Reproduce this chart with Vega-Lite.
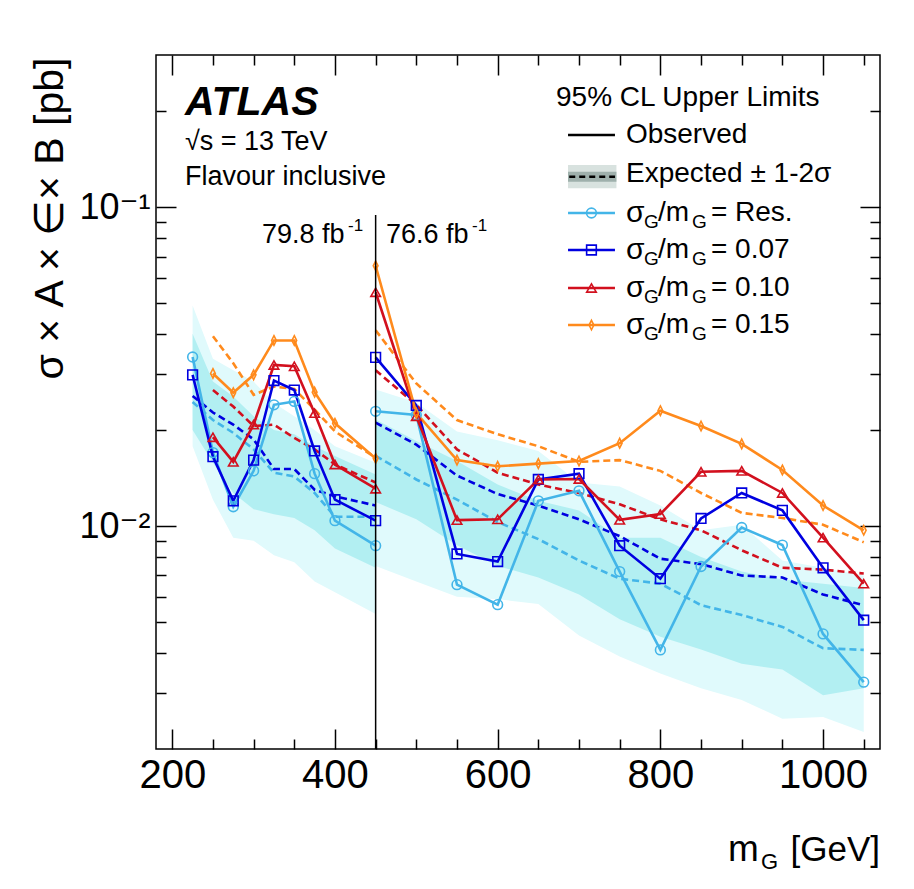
{
  "$schema": "https://vega.github.io/schema/vega-lite/v6.json",
  "width": 724,
  "height": 694,
  "autosize": {"type": "none"},
  "padding": {"left": 156, "top": 55, "right": 34, "bottom": 140},
  "background": "white",
  "data": {"values": [{}]},
  "config": {
    "view": {"stroke": "black", "strokeWidth": 1.5},
    "font": "Liberation Sans, DejaVu Sans, sans-serif",
    "axis": {"domain": false, "grid": false, "tickColor": "black", "tickWidth": 1.5, "labelColor": "black", "labelFont": "Liberation Sans, DejaVu Sans, sans-serif", "titleColor": "black", "titleFont": "Liberation Sans, DejaVu Sans, sans-serif", "labelOverlap": false, "labelFlush": false}
  },
  "datasets": {
    "lines": [
      {"series": "Res.", "region": "L", "m": 225, "obs": 0.0339, "exp": 0.0245},
      {"series": "Res.", "region": "L", "m": 250, "obs": 0.0170, "exp": 0.0215},
      {"series": "Res.", "region": "L", "m": 275, "obs": 0.0115, "exp": 0.0196},
      {"series": "Res.", "region": "L", "m": 300, "obs": 0.0149, "exp": 0.0174},
      {"series": "Res.", "region": "L", "m": 325, "obs": 0.0240, "exp": 0.0147},
      {"series": "Res.", "region": "L", "m": 350, "obs": 0.0246, "exp": 0.0143},
      {"series": "Res.", "region": "L", "m": 375, "obs": 0.0146, "exp": 0.0127},
      {"series": "Res.", "region": "L", "m": 400, "obs": 0.0104, "exp": 0.0107},
      {"series": "Res.", "region": "L", "m": 450, "obs": 0.00868, "exp": 0.0107},
      {"series": "Res.", "region": "R", "m": 450, "obs": 0.0229, "exp": 0.0166},
      {"series": "Res.", "region": "R", "m": 500, "obs": 0.0223, "exp": 0.0140},
      {"series": "Res.", "region": "R", "m": 550, "obs": 0.00655, "exp": 0.0121},
      {"series": "Res.", "region": "R", "m": 600, "obs": 0.00567, "exp": 0.0103},
      {"series": "Res.", "region": "R", "m": 650, "obs": 0.0120, "exp": 0.0091},
      {"series": "Res.", "region": "R", "m": 700, "obs": 0.0129, "exp": 0.0078},
      {"series": "Res.", "region": "R", "m": 750, "obs": 0.0072, "exp": 0.00684},
      {"series": "Res.", "region": "R", "m": 800, "obs": 0.00409, "exp": 0.0066},
      {"series": "Res.", "region": "R", "m": 850, "obs": 0.00747, "exp": 0.00565},
      {"series": "Res.", "region": "R", "m": 900, "obs": 0.0099, "exp": 0.00526},
      {"series": "Res.", "region": "R", "m": 950, "obs": 0.00872, "exp": 0.00483},
      {"series": "Res.", "region": "R", "m": 1000, "obs": 0.00459, "exp": 0.00414},
      {"series": "Res.", "region": "R", "m": 1050, "obs": 0.00324, "exp": 0.00409},
      {"series": "0.07", "region": "L", "m": 225, "obs": 0.0298, "exp": 0.0256},
      {"series": "0.07", "region": "L", "m": 250, "obs": 0.0165, "exp": 0.0227},
      {"series": "0.07", "region": "L", "m": 275, "obs": 0.0120, "exp": 0.0208},
      {"series": "0.07", "region": "L", "m": 300, "obs": 0.0161, "exp": 0.0187},
      {"series": "0.07", "region": "L", "m": 325, "obs": 0.0286, "exp": 0.0151},
      {"series": "0.07", "region": "L", "m": 350, "obs": 0.0267, "exp": 0.0151},
      {"series": "0.07", "region": "L", "m": 375, "obs": 0.0172, "exp": 0.0130},
      {"series": "0.07", "region": "L", "m": 400, "obs": 0.0121, "exp": 0.0124},
      {"series": "0.07", "region": "L", "m": 450, "obs": 0.0104, "exp": 0.0116},
      {"series": "0.07", "region": "R", "m": 450, "obs": 0.0338, "exp": 0.0211},
      {"series": "0.07", "region": "R", "m": 500, "obs": 0.0239, "exp": 0.0180},
      {"series": "0.07", "region": "R", "m": 550, "obs": 0.00818, "exp": 0.0144},
      {"series": "0.07", "region": "R", "m": 600, "obs": 0.00774, "exp": 0.0126},
      {"series": "0.07", "region": "R", "m": 650, "obs": 0.0140, "exp": 0.0116},
      {"series": "0.07", "region": "R", "m": 700, "obs": 0.0146, "exp": 0.0105},
      {"series": "0.07", "region": "R", "m": 750, "obs": 0.00868, "exp": 0.0093},
      {"series": "0.07", "region": "R", "m": 800, "obs": 0.00684, "exp": 0.0079},
      {"series": "0.07", "region": "R", "m": 850, "obs": 0.01057, "exp": 0.0076},
      {"series": "0.07", "region": "R", "m": 900, "obs": 0.0127, "exp": 0.0070},
      {"series": "0.07", "region": "R", "m": 950, "obs": 0.0112, "exp": 0.0069},
      {"series": "0.07", "region": "R", "m": 1000, "obs": 0.0074, "exp": 0.0061},
      {"series": "0.07", "region": "R", "m": 1050, "obs": 0.00507, "exp": 0.00565},
      {"series": "0.10", "region": "L", "m": 250, "obs": 0.0190, "exp": 0.0267},
      {"series": "0.10", "region": "L", "m": 275, "obs": 0.0159, "exp": 0.0237},
      {"series": "0.10", "region": "L", "m": 300, "obs": 0.0208, "exp": 0.0206},
      {"series": "0.10", "region": "L", "m": 325, "obs": 0.0320, "exp": 0.0208},
      {"series": "0.10", "region": "L", "m": 350, "obs": 0.0317, "exp": 0.0189},
      {"series": "0.10", "region": "L", "m": 375, "obs": 0.0226, "exp": 0.0174},
      {"series": "0.10", "region": "L", "m": 400, "obs": 0.0156, "exp": 0.0156},
      {"series": "0.10", "region": "L", "m": 450, "obs": 0.0131, "exp": 0.0137},
      {"series": "0.10", "region": "R", "m": 450, "obs": 0.0541, "exp": 0.0308},
      {"series": "0.10", "region": "R", "m": 500, "obs": 0.0221, "exp": 0.0240},
      {"series": "0.10", "region": "R", "m": 550, "obs": 0.01044, "exp": 0.0174},
      {"series": "0.10", "region": "R", "m": 600, "obs": 0.0105, "exp": 0.0147},
      {"series": "0.10", "region": "R", "m": 650, "obs": 0.0140, "exp": 0.0135},
      {"series": "0.10", "region": "R", "m": 700, "obs": 0.01405, "exp": 0.0127},
      {"series": "0.10", "region": "R", "m": 750, "obs": 0.01046, "exp": 0.0117},
      {"series": "0.10", "region": "R", "m": 800, "obs": 0.0109, "exp": 0.0105},
      {"series": "0.10", "region": "R", "m": 850, "obs": 0.0148, "exp": 0.0097},
      {"series": "0.10", "region": "R", "m": 900, "obs": 0.0149, "exp": 0.0084},
      {"series": "0.10", "region": "R", "m": 950, "obs": 0.0127, "exp": 0.0074},
      {"series": "0.10", "region": "R", "m": 1000, "obs": 0.0092, "exp": 0.0073},
      {"series": "0.10", "region": "R", "m": 1050, "obs": 0.0066, "exp": 0.0071},
      {"series": "0.15", "region": "L", "m": 250, "obs": 0.0301, "exp": 0.0394},
      {"series": "0.15", "region": "L", "m": 275, "obs": 0.0262, "exp": 0.0324},
      {"series": "0.15", "region": "L", "m": 300, "obs": 0.0298, "exp": 0.0258},
      {"series": "0.15", "region": "L", "m": 325, "obs": 0.0382, "exp": 0.0274},
      {"series": "0.15", "region": "L", "m": 350, "obs": 0.0382, "exp": 0.0269},
      {"series": "0.15", "region": "L", "m": 375, "obs": 0.0263, "exp": 0.0232},
      {"series": "0.15", "region": "L", "m": 400, "obs": 0.0210, "exp": 0.0198},
      {"series": "0.15", "region": "L", "m": 450, "obs": 0.0163, "exp": 0.0164},
      {"series": "0.15", "region": "R", "m": 450, "obs": 0.0655, "exp": 0.0411},
      {"series": "0.15", "region": "R", "m": 500, "obs": 0.0226, "exp": 0.0280},
      {"series": "0.15", "region": "R", "m": 550, "obs": 0.0161, "exp": 0.0215},
      {"series": "0.15", "region": "R", "m": 600, "obs": 0.0154, "exp": 0.0194},
      {"series": "0.15", "region": "R", "m": 650, "obs": 0.0157, "exp": 0.0178},
      {"series": "0.15", "region": "R", "m": 700, "obs": 0.0160, "exp": 0.0159},
      {"series": "0.15", "region": "R", "m": 750, "obs": 0.0182, "exp": 0.0161},
      {"series": "0.15", "region": "R", "m": 800, "obs": 0.0230, "exp": 0.0149},
      {"series": "0.15", "region": "R", "m": 850, "obs": 0.0206, "exp": 0.0127},
      {"series": "0.15", "region": "R", "m": 900, "obs": 0.0181, "exp": 0.0110},
      {"series": "0.15", "region": "R", "m": 950, "obs": 0.0150, "exp": 0.0106},
      {"series": "0.15", "region": "R", "m": 1000, "obs": 0.0116, "exp": 0.0101},
      {"series": "0.15", "region": "R", "m": 1050, "obs": 0.0097, "exp": 0.0089}
    ],
    "bands": [
      {"region": "L", "m": 225, "lo2": 0.0178, "lo1": 0.0200, "hi1": 0.0401, "hi2": 0.0492},
      {"region": "L", "m": 250, "lo2": 0.0121, "lo1": 0.0158, "hi1": 0.0284, "hi2": 0.0335},
      {"region": "L", "m": 275, "lo2": 0.0092, "lo1": 0.0127, "hi1": 0.0255, "hi2": 0.0308},
      {"region": "L", "m": 300, "lo2": 0.0090, "lo1": 0.0113, "hi1": 0.0221, "hi2": 0.0284},
      {"region": "L", "m": 325, "lo2": 0.0081, "lo1": 0.0109, "hi1": 0.0200, "hi2": 0.0243},
      {"region": "L", "m": 350, "lo2": 0.0077, "lo1": 0.0106, "hi1": 0.0194, "hi2": 0.0221},
      {"region": "L", "m": 375, "lo2": 0.0067, "lo1": 0.0097, "hi1": 0.0178, "hi2": 0.0200},
      {"region": "L", "m": 400, "lo2": 0.0062, "lo1": 0.0085, "hi1": 0.0166, "hi2": 0.0178},
      {"region": "L", "m": 450, "lo2": 0.0053, "lo1": 0.0074, "hi1": 0.0145, "hi2": 0.0158},
      {"region": "R", "m": 450, "lo2": 0.0075, "lo1": 0.0119, "hi1": 0.0216, "hi2": 0.0268},
      {"region": "R", "m": 500, "lo2": 0.0067, "lo1": 0.0105, "hi1": 0.0185, "hi2": 0.0244},
      {"region": "R", "m": 550, "lo2": 0.0060, "lo1": 0.0087, "hi1": 0.0160, "hi2": 0.0198},
      {"region": "R", "m": 600, "lo2": 0.0059, "lo1": 0.0075, "hi1": 0.0135, "hi2": 0.0186},
      {"region": "R", "m": 650, "lo2": 0.0057, "lo1": 0.0069, "hi1": 0.0120, "hi2": 0.0172},
      {"region": "R", "m": 700, "lo2": 0.00454, "lo1": 0.0061, "hi1": 0.0112, "hi2": 0.0137},
      {"region": "R", "m": 750, "lo2": 0.0039, "lo1": 0.0051, "hi1": 0.0092, "hi2": 0.0133},
      {"region": "R", "m": 800, "lo2": 0.00345, "lo1": 0.0045, "hi1": 0.0092, "hi2": 0.0116},
      {"region": "R", "m": 850, "lo2": 0.0031, "lo1": 0.0041, "hi1": 0.0080, "hi2": 0.0097},
      {"region": "R", "m": 900, "lo2": 0.00285, "lo1": 0.0037, "hi1": 0.0072, "hi2": 0.0101},
      {"region": "R", "m": 950, "lo2": 0.00249, "lo1": 0.00355, "hi1": 0.0068, "hi2": 0.0078},
      {"region": "R", "m": 1000, "lo2": 0.00252, "lo1": 0.00295, "hi1": 0.0066, "hi2": 0.0074},
      {"region": "R", "m": 1050, "lo2": 0.00226, "lo1": 0.0031, "hi1": 0.0064, "hi2": 0.0070}
    ],
    "legend": [
      {"series": "Res.", "ly": 0.0959, "val": "= Res."},
      {"series": "0.07", "ly": 0.0734, "val": "= 0.07"},
      {"series": "0.10", "ly": 0.0558, "val": "= 0.10"},
      {"series": "0.15", "ly": 0.0427, "val": "= 0.15"}
    ]
  },
  "resolve": {"axis": {"x": "independent", "y": "independent"}},
  "layer": [
    {
      "data": {"name": "bands"},
      "mark": {"type": "area", "color": "#e0fafc", "opacity": 1},
      "encoding": {
        "x": {"field": "m", "type": "quantitative", "scale": {"domain": [180, 1070], "nice": false, "zero": false},
          "axis": {"orient": "bottom", "title": null, "values": [200,250,300,350,400,450,500,550,600,650,700,750,800,850,900,950,1000,1050],
            "labelExpr": "datum.value % 200 === 0 ? format(datum.value, 'd') : ''",
            "tickSize": {"condition": {"test": "datum.value % 200 === 0", "value": -20}, "value": -10},
            "labelFontSize": 40, "labelPadding": 26}},
        "y": {"field": "lo2", "type": "quantitative", "scale": {"type": "log", "domain": [0.002, 0.3], "nice": false},
          "axis": {"orient": "left", "values": [0.003,0.004,0.005,0.006,0.007,0.008,0.009,0.01,0.02,0.03,0.04,0.05,0.06,0.07,0.08,0.09,0.1,0.2],
            "labelExpr": "datum.value === 0.1 ? '10⁻¹' : (datum.value === 0.01 ? '10⁻²' : '')",
            "tickSize": {"condition": {"test": "datum.value === 0.1 || datum.value === 0.01", "value": -20}, "value": -10},
            "labelFontSize": 36, "labelPadding": 26,
            "title": "σ × A × ∈× B [pb]", "titleFontSize": 41, "titleFontWeight": "normal", "titleAngle": -90,
            "titleX": -94, "titleY": 2, "titleAlign": "right", "titleBaseline": "alphabetic"}},
        "y2": {"field": "hi2"},
        "detail": {"field": "region"}
      }
    },
    {
      "data": {"name": "bands"},
      "mark": {"type": "area", "color": "#b2eff2", "opacity": 1},
      "encoding": {
        "x": {"field": "m", "type": "quantitative",
          "axis": {"orient": "top", "title": null, "labels": false, "values": [200,250,300,350,400,450,500,550,600,650,700,750,800,850,900,950,1000,1050],
            "tickSize": {"condition": {"test": "datum.value % 200 === 0", "value": -20}, "value": -10}}},
        "y": {"field": "lo1", "type": "quantitative",
          "axis": {"orient": "right", "title": null, "labels": false, "values": [0.003,0.004,0.005,0.006,0.007,0.008,0.009,0.01,0.02,0.03,0.04,0.05,0.06,0.07,0.08,0.09,0.1,0.2],
            "tickSize": {"condition": {"test": "datum.value === 0.1 || datum.value === 0.01", "value": -20}, "value": -10}}},
        "y2": {"field": "hi1"},
        "detail": {"field": "region"}
      }
    },
    {
      "data": {"name": "lines"},
      "mark": {"type": "line", "strokeWidth": 2.6, "strokeDash": [7, 4]},
      "encoding": {
        "x": {"field": "m", "type": "quantitative", "axis": null},
        "y": {"field": "exp", "type": "quantitative", "axis": null},
        "color": {"field": "series", "type": "nominal", "legend": null,
          "scale": {"domain": ["Res.", "0.07", "0.10", "0.15"], "range": ["#43b5e8", "#0000e0", "#d2101e", "#ff8a1c"]}},
        "detail": {"field": "region"}
      }
    },
    {
      "data": {"name": "lines"},
      "mark": {"type": "line", "strokeWidth": 2.6},
      "encoding": {
        "x": {"field": "m", "type": "quantitative", "axis": null},
        "y": {"field": "obs", "type": "quantitative", "axis": null},
        "color": {"field": "series", "type": "nominal", "legend": null},
        "detail": {"field": "region"}
      }
    },
    {
      "data": {"name": "lines"},
      "mark": {"type": "point", "filled": false, "strokeWidth": 1.6, "opacity": 1},
      "encoding": {
        "x": {"field": "m", "type": "quantitative", "axis": null},
        "y": {"field": "obs", "type": "quantitative", "axis": null},
        "color": {"field": "series", "type": "nominal", "legend": null},
        "shape": {"field": "series", "type": "nominal", "legend": null,
          "scale": {"domain": ["Res.", "0.07", "0.10", "0.15"], "range": ["circle", "square", "triangle-up", "M0,-1L0.5,0L0,1L-0.5,0Z"]}},
        "size": {"field": "series", "type": "nominal", "legend": null,
          "scale": {"domain": ["Res.", "0.07", "0.10", "0.15"], "range": [95, 90, 105, 75]}}
      }
    },
    {
      "mark": {"type": "rule", "color": "black", "strokeWidth": 1.5},
      "encoding": {
        "x": {"datum": 450, "type": "quantitative", "axis": null},
        "y": {"datum": 0.002, "type": "quantitative", "axis": null},
        "y2": {"datum": 0.0945}
      }
    },
    {
      "mark": {"type": "text", "text": "ATLAS", "fontSize": 41, "fontWeight": "bold", "fontStyle": "italic", "align": "left", "baseline": "alphabetic", "color": "black"},
      "encoding": {"x": {"datum": 215.6, "type": "quantitative", "axis": null}, "y": {"datum": 0.1945, "type": "quantitative", "axis": null}}
    },
    {
      "mark": {"type": "text", "text": "√s = 13 TeV", "fontSize": 27, "align": "left", "baseline": "alphabetic", "color": "black"},
      "encoding": {"x": {"datum": 215.6, "type": "quantitative", "axis": null}, "y": {"datum": 0.1511, "type": "quantitative", "axis": null}}
    },
    {
      "mark": {"type": "text", "text": "Flavour inclusive", "fontSize": 27, "align": "left", "baseline": "alphabetic", "color": "black"},
      "encoding": {"x": {"datum": 215.6, "type": "quantitative", "axis": null}, "y": {"datum": 0.1174, "type": "quantitative", "axis": null}}
    },
    {
      "mark": {"type": "text", "text": "79.8 fb", "fontSize": 27, "align": "left", "baseline": "alphabetic", "color": "black"},
      "encoding": {"x": {"datum": 310.3, "type": "quantitative", "axis": null}, "y": {"datum": 0.0772, "type": "quantitative", "axis": null}}
    },
    {
      "mark": {"type": "text", "text": "-1", "fontSize": 17, "align": "left", "baseline": "alphabetic", "dx": 86, "dy": -12, "color": "black"},
      "encoding": {"x": {"datum": 310.3, "type": "quantitative", "axis": null}, "y": {"datum": 0.0772, "type": "quantitative", "axis": null}}
    },
    {
      "mark": {"type": "text", "text": "76.6 fb", "fontSize": 27, "align": "left", "baseline": "alphabetic", "color": "black"},
      "encoding": {"x": {"datum": 462.7, "type": "quantitative", "axis": null}, "y": {"datum": 0.0772, "type": "quantitative", "axis": null}}
    },
    {
      "mark": {"type": "text", "text": "-1", "fontSize": 17, "align": "left", "baseline": "alphabetic", "dx": 86, "dy": -12, "color": "black"},
      "encoding": {"x": {"datum": 462.7, "type": "quantitative", "axis": null}, "y": {"datum": 0.0772, "type": "quantitative", "axis": null}}
    },
    {
      "mark": {"type": "text", "text": "95% CL Upper Limits", "fontSize": 28, "align": "left", "baseline": "middle", "color": "black"},
      "encoding": {"x": {"datum": 671.7, "type": "quantitative", "axis": null}, "y": {"datum": 0.2199, "type": "quantitative", "axis": null}}
    },
    {
      "mark": {"type": "rule", "color": "black", "strokeWidth": 2.5},
      "encoding": {"x": {"datum": 686.5, "type": "quantitative", "axis": null}, "x2": {"datum": 744.2}, "y": {"datum": 0.1684, "type": "quantitative", "axis": null}}
    },
    {
      "mark": {"type": "text", "text": "Observed", "fontSize": 28, "align": "left", "baseline": "middle", "color": "black"},
      "encoding": {"x": {"datum": 757.7, "type": "quantitative", "axis": null}, "y": {"datum": 0.1684, "type": "quantitative", "axis": null}}
    },
    {
      "mark": {"type": "rect", "color": "#d8e2df"},
      "encoding": {"x": {"datum": 686.5, "type": "quantitative", "axis": null}, "x2": {"datum": 746}, "y": {"datum": 0.1146, "type": "quantitative", "axis": null}, "y2": {"datum": 0.1356}}
    },
    {
      "mark": {"type": "rect", "color": "#9fb0ac"},
      "encoding": {"x": {"datum": 686.5, "type": "quantitative", "axis": null}, "x2": {"datum": 746}, "y": {"datum": 0.1202, "type": "quantitative", "axis": null}, "y2": {"datum": 0.1292}}
    },
    {
      "mark": {"type": "rule", "color": "black", "strokeWidth": 2.5, "strokeDash": [6, 4]},
      "encoding": {"x": {"datum": 688, "type": "quantitative", "axis": null}, "x2": {"datum": 744.2}, "y": {"datum": 0.1246, "type": "quantitative", "axis": null}}
    },
    {
      "mark": {"type": "text", "text": "Expected ± 1-2σ", "fontSize": 28, "align": "left", "baseline": "middle", "color": "black"},
      "encoding": {"x": {"datum": 757.7, "type": "quantitative", "axis": null}, "y": {"datum": 0.1271, "type": "quantitative", "axis": null}}
    },
    {
      "data": {"name": "legend"},
      "mark": {"type": "rule", "strokeWidth": 2.6},
      "encoding": {"x": {"datum": 686.5, "type": "quantitative", "axis": null}, "x2": {"datum": 744.2}, "y": {"field": "ly", "type": "quantitative", "axis": null},
        "color": {"field": "series", "type": "nominal", "legend": null}}
    },
    {
      "data": {"name": "legend"},
      "mark": {"type": "point", "filled": false, "strokeWidth": 1.6, "opacity": 1},
      "encoding": {"x": {"datum": 715.3, "type": "quantitative", "axis": null}, "y": {"field": "ly", "type": "quantitative", "axis": null},
        "color": {"field": "series", "type": "nominal", "legend": null},
        "shape": {"field": "series", "type": "nominal", "legend": null},
        "size": {"field": "series", "type": "nominal", "legend": null}}
    },
    {
      "data": {"name": "legend"},
      "mark": {"type": "text", "text": "σ", "fontSize": 30, "align": "left", "baseline": "middle", "color": "black"},
      "encoding": {"x": {"datum": 757.7, "type": "quantitative", "axis": null}, "y": {"field": "ly", "type": "quantitative", "axis": null}}
    },
    {
      "data": {"name": "legend"},
      "mark": {"type": "text", "text": "G", "fontSize": 19, "align": "left", "baseline": "middle", "dx": 18, "dy": 9, "color": "black"},
      "encoding": {"x": {"datum": 757.7, "type": "quantitative", "axis": null}, "y": {"field": "ly", "type": "quantitative", "axis": null}}
    },
    {
      "data": {"name": "legend"},
      "mark": {"type": "text", "text": "/m", "fontSize": 28, "align": "left", "baseline": "middle", "dx": 32, "color": "black"},
      "encoding": {"x": {"datum": 757.7, "type": "quantitative", "axis": null}, "y": {"field": "ly", "type": "quantitative", "axis": null}}
    },
    {
      "data": {"name": "legend"},
      "mark": {"type": "text", "text": "G", "fontSize": 19, "align": "left", "baseline": "middle", "dx": 66, "dy": 9, "color": "black"},
      "encoding": {"x": {"datum": 757.7, "type": "quantitative", "axis": null}, "y": {"field": "ly", "type": "quantitative", "axis": null}}
    },
    {
      "data": {"name": "legend"},
      "mark": {"type": "text", "fontSize": 28, "align": "left", "baseline": "middle", "dx": 85, "color": "black"},
      "encoding": {"x": {"datum": 757.7, "type": "quantitative", "axis": null}, "y": {"field": "ly", "type": "quantitative", "axis": null},
        "text": {"field": "val"}}
    },
    {
      "mark": {"type": "text", "text": "[GeV]", "fontSize": 35, "align": "right", "baseline": "alphabetic", "dy": 112, "color": "black"},
      "encoding": {"x": {"datum": 1070, "type": "quantitative", "axis": null}, "y": {"datum": 0.002, "type": "quantitative", "axis": null}}
    },
    {
      "mark": {"type": "text", "text": "G", "fontSize": 22, "align": "left", "baseline": "alphabetic", "dx": -119, "dy": 120, "color": "black"},
      "encoding": {"x": {"datum": 1070, "type": "quantitative", "axis": null}, "y": {"datum": 0.002, "type": "quantitative", "axis": null}}
    },
    {
      "mark": {"type": "text", "text": "m", "fontSize": 37, "align": "left", "baseline": "alphabetic", "dx": -152, "dy": 112, "color": "black"},
      "encoding": {"x": {"datum": 1070, "type": "quantitative", "axis": null}, "y": {"datum": 0.002, "type": "quantitative", "axis": null}}
    }
  ]
}
